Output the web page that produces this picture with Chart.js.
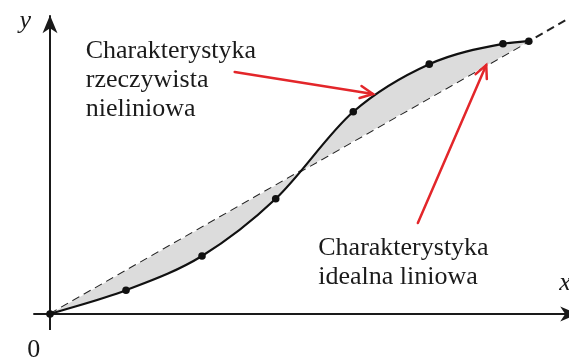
<!DOCTYPE html>
<html><head><meta charset="utf-8">
<script src="https://cdn.jsdelivr.net/npm/chart.js@4/dist/chart.umd.min.js"></script>
<style>html,body{margin:0;padding:0;background:#fff;}#wrap{width:569px;height:360px;}</style>
</head><body><div id="wrap"><canvas id="c" width="569" height="360"></canvas></div>
<script>
// measured characteristic (real, non-linear)
const curveX = [0, 1, 2, 2.97, 3.99, 4.99, 5.96, 6.3];
const curveY = [0, 0.55, 1.34, 2.66, 4.67, 5.77, 6.24, 6.3];
// ideal linear characteristic
const idealX = [0, 6.3, 6.8];
const idealY = [0, 6.3, 6.8];
// axes extents
const xAxisX = [-0.22, 6.95];
const yAxisY = [-0.37, 6.9];
// text labels (left x, first baseline y) in data units
const labelTexts = [["Charakterystyka", "rzeczywista", "nieliniowa"], ["Charakterystyka", "idealna liniowa"]];
const labelPos = [[0.47, 5.91], [3.53, 1.37]];
// red arrows [fromX, fromY, toX, toY]
const arrowsData = [[2.43, 5.59, 4.25, 5.08], [4.84, 2.10, 5.74, 5.75]];
const axisNames = ["x", "y", "0"];
const axisNamePos = [[6.7, 0.55], [-0.4, 6.6], [-0.3, -1.0]];

const pts = (xs, ys) => xs.map((x, i) => ({x, y: ys[i]}));

const deco = {
  id: 'deco',
  afterDatasetsDraw(chart) {
    const {ctx, scales: {x, y}} = chart;
    const px = v => x.getPixelForValue(v), py = v => y.getPixelForValue(v);
    ctx.save();
    // axis arrow heads
    ctx.fillStyle = '#1a1a1a';
    const head = (tx, ty, ang) => {
      const L = 18, W = 7.5, B = 13;
      ctx.save(); ctx.translate(tx, ty); ctx.rotate(ang);
      ctx.beginPath(); ctx.moveTo(0, 0); ctx.lineTo(-L, -W); ctx.lineTo(-B, 0); ctx.lineTo(-L, W); ctx.closePath(); ctx.fill();
      ctx.restore();
    };
    head(px(xAxisX[1]) , py(0), 0);
    head(px(0), py(yAxisY[1]), -Math.PI / 2);
    // red arrows
    ctx.strokeStyle = '#e3262a'; ctx.lineWidth = 2.5; ctx.lineCap = 'round';
    arrowsData.forEach(a => {
      const x1 = px(a[0]), y1 = py(a[1]), x2 = px(a[2]), y2 = py(a[3]);
      const ang = Math.atan2(y2 - y1, x2 - x1);
      ctx.beginPath(); ctx.moveTo(x1, y1); ctx.lineTo(x2, y2); ctx.stroke();
      ctx.beginPath();
      ctx.moveTo(x2 - 14 * Math.cos(ang - 0.45), y2 - 14 * Math.sin(ang - 0.45));
      ctx.lineTo(x2, y2);
      ctx.lineTo(x2 - 14 * Math.cos(ang + 0.45), y2 - 14 * Math.sin(ang + 0.45));
      ctx.stroke();
    });
    // texts
    ctx.fillStyle = '#1a1a1a';
    ctx.font = '26px "Liberation Serif", "Times New Roman", serif';
    ctx.textBaseline = 'alphabetic'; ctx.textAlign = 'left';
    labelTexts.forEach((lines, i) => {
      lines.forEach((t, j) => ctx.fillText(t, px(labelPos[i][0]), py(labelPos[i][1]) + j * 29));
    });
    axisNames.forEach((t, i) => {
      ctx.font = (i < 2 ? 'italic ' : '') + '26px "Liberation Serif", "Times New Roman", serif';
      ctx.fillText(t, px(axisNamePos[i][0]), py(axisNamePos[i][1]));
    });
    ctx.restore();
  }
};

new Chart(document.getElementById('c'), {
  type: 'scatter',
  data: {
    datasets: [
      { data: pts(curveX, curveY), showLine: true, borderColor: '#111', borderWidth: 2.2,
        cubicInterpolationMode: 'monotone', pointRadius: 3.8, pointBackgroundColor: '#111',
        pointBorderWidth: 0, fill: {target: 1}, backgroundColor: '#dcdcdc', order: 1 },
      { data: pts(idealX, idealY), showLine: true, borderColor: '#222', borderWidth: 2,
        borderDash: [8, 5], pointRadius: 0, fill: false, order: 2 },
      { data: pts(xAxisX, [0, 0]), showLine: true, borderColor: '#1a1a1a', borderWidth: 2, pointRadius: 0, order: 3 },
      { data: pts([0, 0], yAxisY), showLine: true, borderColor: '#1a1a1a', borderWidth: 2, pointRadius: 0, order: 3 }
    ]
  },
  options: {
    responsive: false, animation: false, devicePixelRatio: 1,
    layout: {padding: 0, autoPadding: false},
    plugins: {legend: {display: false}, tooltip: {enabled: false}},
    scales: {
      x: {type: 'linear', display: false, min: -50 / 76, max: 519 / 76},
      y: {type: 'linear', display: false, min: -46 / 43.3, max: 314 / 43.3}
    }
  },
  plugins: [deco]
});
</script></body></html>
